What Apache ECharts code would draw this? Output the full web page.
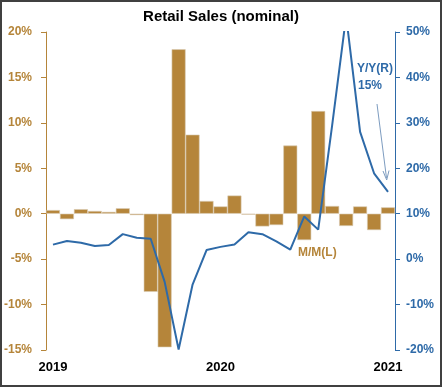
<!DOCTYPE html>
<html>
<head>
<meta charset="utf-8">
<script src="https://cdn.jsdelivr.net/npm/echarts@6/dist/echarts.min.js"></script>
<style>
html,body{margin:0;padding:0;background:#fff;}
#chart{width:442px;height:387px;}
</style>
</head>
<body>
<div id="chart"></div>
<script>
var categories = ['2019-01','2019-02','2019-03','2019-04','2019-05','2019-06','2019-07','2019-08','2019-09','2019-10','2019-11','2019-12',
  '2020-01','2020-02','2020-03','2020-04','2020-05','2020-06','2020-07','2020-08','2020-09','2020-10','2020-11','2020-12','2021-01'];
var momValues = [0.4, -0.6, 0.5, 0.3, 0.2, 0.6, -0.15, -8.6, -14.7, 18.1, 8.7, 1.4, 0.8, 2.0, -0.1, -1.4, -1.25, 7.5, -2.9, 11.3, 0.85, -1.35, 0.8, -1.8, 0.7];
var yoyValues = [3.2, 4.0, 3.6, 2.9, 3.1, 5.5, 4.7, 4.5, -5.0, -19.9, -5.6, 2.0, 2.7, 3.2, 5.9, 5.5, 3.9, 2.1, 9.4, 6.5, 29.5, 53.5, 28.0, 18.9, 14.8];
var leftTicks = {min: -15, max: 20, interval: 5};
var rightTicks = {min: -20, max: 50, interval: 10};

var TAN = '#b5853a';
var BLUE = '#2e6aa8';

var chart = echarts.init(document.getElementById('chart'), null, {renderer: 'canvas'});
chart.setOption({
  animation: false,
  backgroundColor: '#fff',
  title: {
    text: 'Retail Sales (nominal)',
    left: 'center', top: 4,
    textStyle: {fontFamily: 'Liberation Sans, Arial', fontSize: 15, fontWeight: 'bold', color: '#000'}
  },
  grid: {left: 46, right: 47, top: 32, bottom: 37},
  xAxis: {
    type: 'category',
    data: categories,
    boundaryGap: true,
    axisLine: {show: false},
    axisTick: {show: false},
    axisLabel: {
      interval: 0,
      margin: 11,
      color: '#000',
      fontFamily: 'Liberation Sans, Arial',
      fontSize: 13,
      fontWeight: 'bold',
      formatter: function (v) { return v.slice(5) === '01' ? v.slice(0, 4) : ''; }
    }
  },
  yAxis: [{
    type: 'value',
    position: 'left',
    min: leftTicks.min, max: leftTicks.max, interval: leftTicks.interval,
    splitLine: {show: false},
    axisLine: {show: true, lineStyle: {color: TAN, width: 1}},
    axisTick: {show: true, length: 5, lineStyle: {color: TAN}},
    axisLabel: {
      margin: 14, color: TAN, fontFamily: 'Liberation Sans, Arial', fontSize: 12, fontWeight: 'bold',
      formatter: function (v) { return v + '%'; }
    }
  }, {
    type: 'value',
    position: 'right',
    min: rightTicks.min, max: rightTicks.max, interval: rightTicks.interval,
    splitLine: {show: false},
    axisLine: {show: true, lineStyle: {color: BLUE, width: 1}},
    axisTick: {show: true, length: 5, lineStyle: {color: BLUE}},
    axisLabel: {
      margin: 11, color: BLUE, fontFamily: 'Liberation Sans, Arial', fontSize: 12, fontWeight: 'bold',
      formatter: function (v) { return v + '%'; }
    }
  }],
  series: [{
    name: 'M/M(L)',
    type: 'bar',
    yAxisIndex: 0,
    data: momValues,
    barCategoryGap: '0%',
    itemStyle: {color: TAN, borderColor: '#d8cbb3', borderWidth: 0.6}
  }, {
    name: 'Y/Y(R)',
    type: 'line',
    yAxisIndex: 1,
    data: yoyValues,
    symbol: 'none',
    clip: true,
    lineStyle: {color: BLUE, width: 2}
  }],
  graphic: [
    {type: 'rect', shape: {x: 1, y: 1, width: 440, height: 385}, style: {fill: 'none', stroke: '#404040', lineWidth: 2}, silent: true},
    {type: 'text', left: 357, top: 63, style: {text: 'Y/Y(R)', fill: BLUE, font: 'bold 12px "Liberation Sans", Arial'}},
    {type: 'text', left: 358, top: 80, style: {text: '15%', fill: BLUE, font: 'bold 12px "Liberation Sans", Arial'}},
    {type: 'text', left: 298, top: 247, style: {text: 'M/M(L)', fill: TAN, font: 'bold 12px "Liberation Sans", Arial'}},
    {type: 'line', shape: {x1: 377, y1: 104, x2: 386.5, y2: 178}, style: {stroke: '#7d9cc0', lineWidth: 1}},
    {type: 'polyline', shape: {points: [[383, 171], [386.7, 180], [389, 170.5]]}, style: {stroke: '#7d9cc0', lineWidth: 1, fill: 'none'}}
  ]
});
</script>
</body>
</html>
